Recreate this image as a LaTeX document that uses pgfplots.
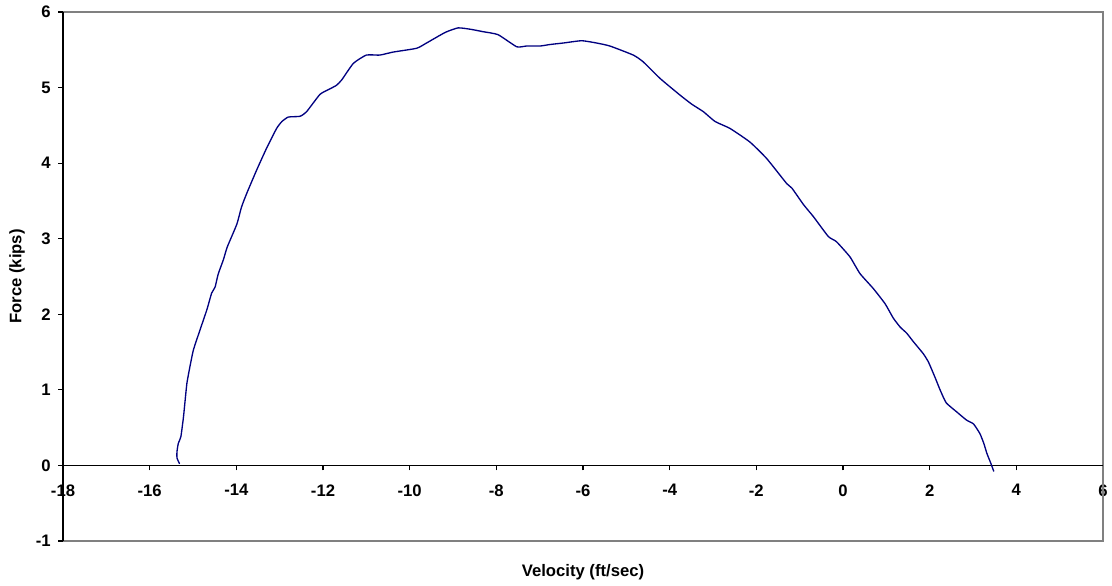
\documentclass[border=0pt]{standalone}
\usepackage{pgfplots}
\pgfplotsset{compat=1.18}
\usepackage{fontspec}
\setmainfont{Liberation Sans}
\definecolor{curve}{RGB}{0,0,128}
\definecolor{frame}{RGB}{128,128,128}
\begin{document}
\begin{tikzpicture}
\begin{axis}[
  scale only axis,
  width=780pt, height=396.75pt,
  xmin=-18, xmax=6, ymin=-1, ymax=6,
  clip=false,
  axis x line*=middle,
  axis y line*=left,
  hide obscured x ticks=false,
  hide obscured y ticks=false,
  axis line style={black, line width=0.8pt},
  x axis line style={-},
  y axis line style={-},
  xtick={-18,-16,-14,-12,-10,-8,-6,-4,-2,0,2,4,6},
  xticklabels={-18,-16,-14,-12,-10,-8,-6,-4,-2,0,2,4,6},
  ytick={-1,0,1,2,3,4,5,6},
  yticklabels={-1,0,1,2,3,4,5,6},
  tick align=outside,
  major tick length=3.75pt,
  tick style={black, line width=0.8pt},
  xticklabel style={font=\fontsize{12.5}{14}\selectfont\bfseries, anchor=north, yshift=-7pt},
  yticklabel style={font=\fontsize{12.5}{14}\selectfont\bfseries, anchor=east, xshift=-2pt},
]
\draw[frame, line width=0.8pt] (axis cs:-18,-1) -- (axis cs:6,-1) -- (axis cs:6,6) -- (axis cs:-18,6);
\draw[black, line width=0.8pt] (axis cs:-18,-1) -- (axis cs:-18,6);
\draw[black, line width=0.8pt] (axis cs:-18,0) -- (axis cs:6,0);
\addplot[curve, line width=1pt, line join=round, smooth, tension=0.3] coordinates {
(-15.31,0.02) (-15.37,0.10) (-15.37,0.18) (-15.34,0.29) (-15.28,0.38) (-15.22,0.64)
(-15.18,0.87) (-15.14,1.09) (-15.07,1.31) (-14.99,1.53) (-14.84,1.79) (-14.68,2.06)
(-14.57,2.28) (-14.49,2.36) (-14.42,2.53) (-14.30,2.72) (-14.21,2.89) (-13.99,3.19)
(-13.88,3.42) (-13.76,3.60) (-13.53,3.91) (-13.30,4.20) (-13.07,4.46) (-12.95,4.55)
(-12.80,4.61) (-12.53,4.62) (-12.38,4.68) (-12.07,4.91) (-11.85,4.98) (-11.69,5.03)
(-11.57,5.10) (-11.30,5.32) (-11.00,5.43) (-10.69,5.43) (-10.38,5.47) (-9.84,5.52)
(-9.61,5.59) (-9.18,5.73) (-8.88,5.79) (-8.58,5.77) (-8.31,5.74) (-7.96,5.70)
(-7.53,5.54) (-7.30,5.55) (-6.99,5.55) (-6.76,5.57) (-6.45,5.59) (-6.03,5.62)
(-5.69,5.59) (-5.38,5.55) (-4.84,5.43) (-4.61,5.34) (-4.22,5.12) (-3.76,4.90)
(-3.49,4.78) (-3.22,4.68) (-2.95,4.55) (-2.61,4.46) (-2.15,4.28) (-1.76,4.06)
(-1.30,3.73) (-1.18,3.67) (-0.91,3.45) (-0.68,3.29) (-0.34,3.03) (-0.15,2.96)
(0.16,2.76) (0.39,2.54) (0.70,2.34) (0.97,2.14) (1.16,1.95) (1.32,1.83)
(1.47,1.75) (1.62,1.64) (1.85,1.48) (1.97,1.37) (2.12,1.17) (2.24,1.00)
(2.38,0.83) (2.62,0.71) (2.85,0.60) (3.01,0.55) (3.16,0.42) (3.25,0.29)
(3.32,0.16) (3.41,0.03) (3.48,-0.08)
};
\node[font=\fontsize{12.5}{14}\selectfont\bfseries] at (axis cs:-6,-1.41) {Velocity (ft/sec)};
\node[font=\fontsize{12.5}{14}\selectfont\bfseries, rotate=90] at (axis cs:-19.06,2.5) {Force (kips)};
\end{axis}
\pgfresetboundingbox
\path[use as bounding box] (-47.25pt,-33pt) rectangle (786.75pt,405.75pt);
\end{tikzpicture}
\end{document}
